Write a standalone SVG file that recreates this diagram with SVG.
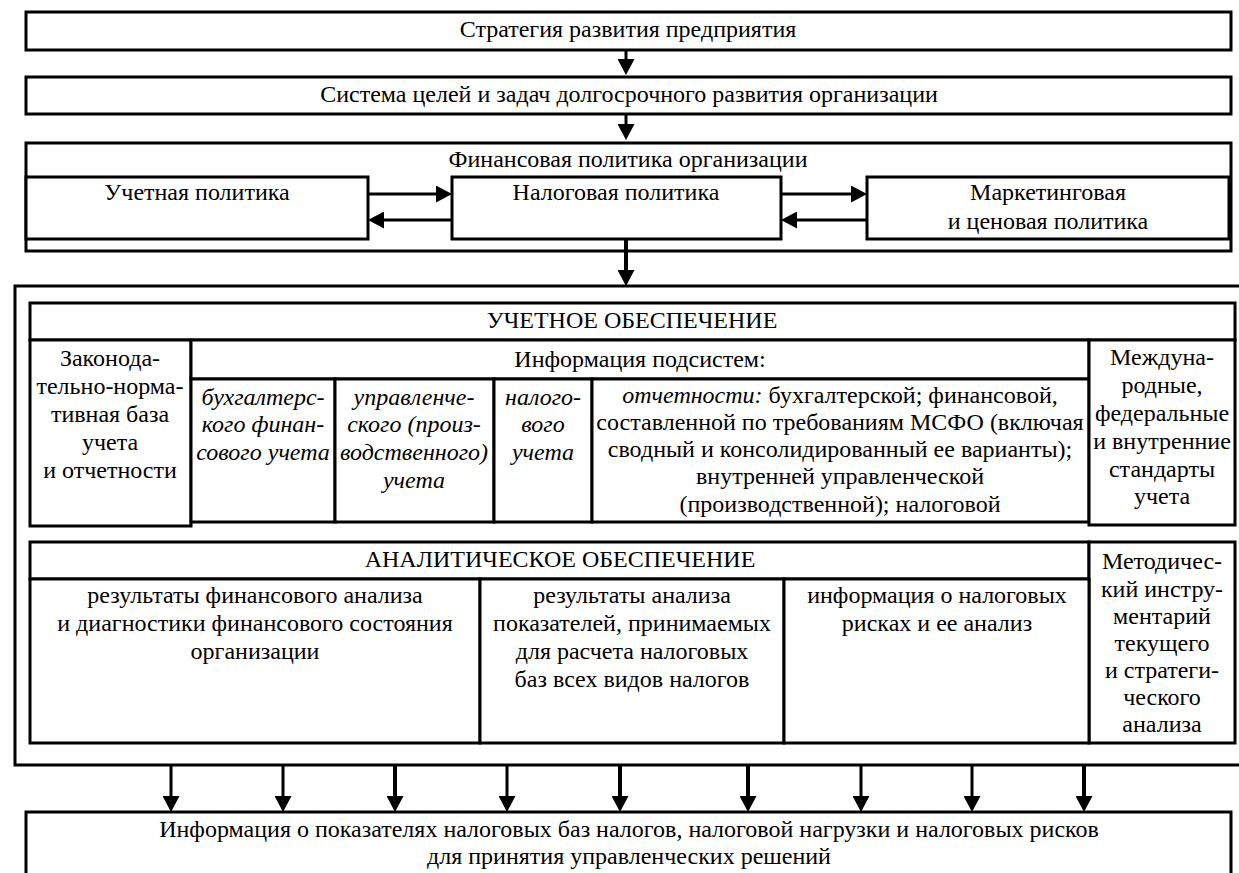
<svg xmlns="http://www.w3.org/2000/svg" width="1239" height="873" viewBox="0 0 1239 873">
<style>
.b{fill:#fff;stroke:#000;stroke-width:3}
.o{fill:none;stroke:#000;stroke-width:3}
.t{font-family:"Liberation Serif","Times New Roman",serif;font-size:24px;fill:#000;text-anchor:middle}
.i{font-style:italic}
.c{stroke:#000;stroke-width:3;fill:none;marker-end:url(#ah)}
.k{stroke-width:4}
</style>
<defs>
<marker id="ah" markerUnits="userSpaceOnUse" viewBox="0 0 16 17" refX="8" refY="8.5" markerWidth="16" markerHeight="17" orient="auto">
<path d="M0,0 L16,8.5 L0,17 z" fill="#000"/>
</marker>
</defs>
<rect width="1239" height="873" fill="#fff"/>

<g id="strategy">
<rect class="b" x="26" y="12" width="1205" height="38"/>
<text class="t" x="628" y="37">Стратегия развития предприятия</text>
</g>
<g id="goals">
<rect class="b" x="26" y="77" width="1205" height="37"/>
<text class="t" x="629" y="102">Система целей и задач долгосрочного развития организации</text>
</g>
<g id="finpolicy">
<rect class="b" x="26" y="143" width="1205" height="108"/>
<text class="t" x="628" y="167">Финансовая политика организации</text>
</g>
<g id="accpolicy">
<rect class="b" x="26" y="177" width="342" height="62"/>
<text class="t" x="197" y="200">Учетная политика</text>
</g>
<g id="taxpolicy">
<rect class="b" x="452" y="177" width="329" height="62"/>
<text class="t" x="616" y="200">Налоговая политика</text>
</g>
<g id="mktpolicy">
<rect class="b" x="867" y="177" width="362" height="62"/>
<text class="t" x="1048" y="200">Маркетинговая</text>
<text class="t" x="1048" y="229">и ценовая политика</text>
</g>

<g id="support">
<path class="o" d="M1245,286 H15 V765 H1245"/>
</g>

<g id="accsupport">
<rect class="b" x="30" y="303" width="1205" height="37"/>
<text class="t" x="632" y="328">УЧЕТНОЕ ОБЕСПЕЧЕНИЕ</text>
</g>
<g id="lawbase">
<rect class="b" x="30" y="340" width="161" height="186"/>
<text class="t" x="110" y="366">Законода-</text>
<text class="t" x="110" y="394">тельно-норма-</text>
<text class="t" x="110" y="422">тивная база</text>
<text class="t" x="110" y="450">учета</text>
<text class="t" x="110" y="478">и отчетности</text>
</g>
<g id="subsysinfo">
<rect class="b" x="191" y="340" width="898" height="39"/>
<text class="t" x="640" y="367">Информация подсистем:</text>
</g>
<g id="bookkeeping">
<rect class="b" x="191" y="379" width="144" height="143"/>
<text class="t i" x="263" y="405">бухгалтерс-</text>
<text class="t i" x="263" y="432">кого финан-</text>
<text class="t i" x="263" y="460">сового учета</text>
</g>
<g id="mgmtacc">
<rect class="b" x="335" y="379" width="159" height="143"/>
<text class="t i" x="414" y="405">управленче-</text>
<text class="t i" x="414" y="432">ского (произ-</text>
<text class="t i" x="414" y="460">водственного)</text>
<text class="t i" x="414" y="488">учета</text>
</g>
<g id="taxacc">
<rect class="b" x="494" y="379" width="98" height="143"/>
<text class="t i" x="543" y="405">налого-</text>
<text class="t i" x="543" y="432">вого</text>
<text class="t i" x="543" y="460">учета</text>
</g>
<g id="reporting">
<rect class="b" x="592" y="379" width="497" height="143"/>
<text class="t" x="840" y="403"><tspan class="i">отчетности:</tspan> бухгалтерской; финансовой,</text>
<text class="t" x="840" y="430">составленной по требованиям МСФО (включая</text>
<text class="t" x="840" y="457">сводный и консолидированный ее варианты);</text>
<text class="t" x="840" y="484">внутренней управленческой</text>
<text class="t" x="840" y="512">(производственной); налоговой</text>
</g>
<g id="standards">
<rect class="b" x="1089" y="340" width="146" height="185"/>
<text class="t" x="1162" y="365">Междуна-</text>
<text class="t" x="1162" y="393">родные,</text>
<text class="t" x="1162" y="421">федеральные</text>
<text class="t" x="1162" y="449">и внутренние</text>
<text class="t" x="1162" y="477">стандарты</text>
<text class="t" x="1162" y="504">учета</text>
</g>

<g id="analyticsupport">
<rect class="b" x="30" y="542" width="1059" height="37"/>
<text class="t" x="560" y="567">АНАЛИТИЧЕСКОЕ ОБЕСПЕЧЕНИЕ</text>
</g>
<g id="methods">
<rect class="b" x="1089" y="542" width="146" height="201"/>
<text class="t" x="1162" y="569">Методичес-</text>
<text class="t" x="1162" y="597">кий инстру-</text>
<text class="t" x="1162" y="624">ментарий</text>
<text class="t" x="1162" y="651">текущего</text>
<text class="t" x="1162" y="678">и стратеги-</text>
<text class="t" x="1162" y="705">ческого</text>
<text class="t" x="1162" y="732">анализа</text>
</g>
<g id="finanalysis">
<rect class="b" x="30" y="579" width="450" height="164"/>
<text class="t" x="255" y="603">результаты финансового анализа</text>
<text class="t" x="255" y="631">и диагностики финансового состояния</text>
<text class="t" x="255" y="659">организации</text>
</g>
<g id="taxbaseanalysis">
<rect class="b" x="480" y="579" width="304" height="164"/>
<text class="t" x="632" y="603">результаты анализа</text>
<text class="t" x="632" y="631">показателей, принимаемых</text>
<text class="t" x="632" y="659">для расчета налоговых</text>
<text class="t" x="632" y="687">баз всех видов налогов</text>
</g>
<g id="taxrisk">
<rect class="b" x="784" y="579" width="305" height="164"/>
<text class="t" x="937" y="603">информация о налоговых</text>
<text class="t" x="937" y="631">рисках и ее анализ</text>
</g>

<g id="result">
<path class="o" d="M26,880 V812 H1231 V880"/>
<text class="t" x="629" y="837">Информация о показателях налоговых баз налогов, налоговой нагрузки и налоговых рисков</text>
<text class="t" x="629" y="864">для принятия управленческих решений</text>
</g>

<g id="connectors">
<line class="c" x1="626" y1="50" x2="626" y2="67"/>
<line class="c" x1="626" y1="114" x2="626" y2="132"/>
<line class="c k" x1="626" y1="239" x2="626" y2="278"/>
<line class="c" x1="368" y1="194" x2="444" y2="194"/>
<line class="c" x1="452" y1="220" x2="376" y2="220"/>
<line class="c" x1="781" y1="194" x2="859" y2="194"/>
<line class="c" x1="867" y1="220" x2="789" y2="220"/>
<line class="c" x1="171" y1="765" x2="171" y2="804"/>
<line class="c" x1="283" y1="765" x2="283" y2="804"/>
<line class="c k" x1="395" y1="765" x2="395" y2="804"/>
<line class="c" x1="507" y1="765" x2="507" y2="804"/>
<line class="c k" x1="620" y1="765" x2="620" y2="804"/>
<line class="c k" x1="748" y1="765" x2="748" y2="804"/>
<line class="c" x1="861" y1="765" x2="861" y2="804"/>
<line class="c" x1="972" y1="765" x2="972" y2="804"/>
<line class="c k" x1="1084" y1="765" x2="1084" y2="804"/>
</g>
</svg>
